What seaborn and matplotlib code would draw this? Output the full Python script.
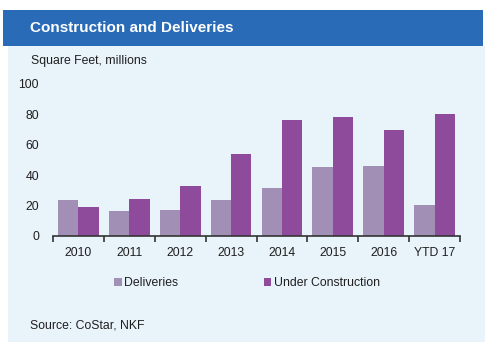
import matplotlib
matplotlib.use("Agg")
import matplotlib.pyplot as plt
import pandas as pd
import seaborn as sns
from matplotlib.patches import Rectangle
from matplotlib.ticker import FixedLocator

# Data (square feet, millions)
years = ["2010", "2011", "2012", "2013", "2014", "2015", "2016", "YTD 17"]
deliveries = [24, 16.3, 16.8, 23.8, 31.8, 45.5, 46.2, 20.7]
under_construction = [19, 24.6, 33, 54, 76, 78.6, 69.5, 80]
series_names = ["Deliveries", "Under Construction"]
y_ticks = [0, 20, 40, 60, 80, 100]

title = "Construction and Deliveries"
unit_label = "Square Feet, millions"
source = "Source: CoStar, NKF"

# Colours
header_blue = "#2A6BB8"
panel_blue = "#E9F3FA"
palette = {"Deliveries": "#A18FB6", "Under Construction": "#8E4B9C"}

# Long format for seaborn
df = pd.DataFrame({
    "year": years * 2,
    "series": [series_names[0]] * len(years) + [series_names[1]] * len(years),
    "value": deliveries + under_construction,
})

sns.set_style("white")
plt.rcParams["font.family"] = ["Liberation Sans", "DejaVu Sans"]
text_color = "#1F1F1F"

fig = plt.figure(figsize=(5, 3.5), dpi=100)

# Header band and light panel behind the chart
fig.patches.append(Rectangle((8 / 500, 8 / 350), 477 / 500, 296 / 350,
                             transform=fig.transFigure, facecolor=panel_blue,
                             edgecolor="none", zorder=-2))
fig.patches.append(Rectangle((3 / 500, 1 - 46 / 350), 480 / 500, 36 / 350,
                             transform=fig.transFigure, facecolor=header_blue,
                             edgecolor="none", zorder=-1))
fig.text(30 / 500, 1 - 28 / 350, title, color="white", fontsize=11,
         fontweight="bold", va="center", ha="left")
fig.text(31 / 500, 1 - 61 / 350, unit_label, color=text_color, fontsize=8.8,
         va="center", ha="left")
fig.text(30 / 500, 1 - 325 / 350, source, color=text_color, fontsize=8.8,
         va="center", ha="left")

ax = fig.add_axes([53 / 500, 1 - 236 / 350, 407 / 500, 152 / 350])
ax.set_zorder(3)
ax.set_facecolor("none")

sns.barplot(data=df, x="year", y="value", hue="series", order=years,
            hue_order=series_names, palette=palette, width=0.8,
            linewidth=0, saturation=1, ax=ax)

ax.set_xlim(-0.5, len(years) - 0.5)
ax.set_ylim(0, 100)
ax.set_yticks(y_ticks)
ax.set_xlabel("")
ax.set_ylabel("")

for side in ["left", "right", "top"]:
    ax.spines[side].set_visible(False)
ax.spines["bottom"].set_color("#333333")
ax.spines["bottom"].set_linewidth(1.2)

# Tick marks sit between the year groups
ax.xaxis.set_minor_locator(FixedLocator([i - 0.5 for i in range(len(years) + 1)]))
ax.tick_params(axis="x", which="major", length=0, pad=8, labelsize=8.8,
               labelcolor=text_color)
ax.tick_params(axis="x", which="minor", length=4, width=1.2, color="#333333",
               direction="out", bottom=True)
ax.tick_params(axis="y", length=0, pad=10, labelsize=8.8, labelcolor=text_color)

ax.legend(loc="center", bbox_to_anchor=(247 / 500, 1 - 283 / 350),
          bbox_transform=fig.transFigure, ncol=2, frameon=False,
          handlelength=0.6, handleheight=0.6, handletextpad=0.2,
          columnspacing=7, fontsize=8.8, labelcolor=text_color)

fig.savefig("out.png", dpi=100)
